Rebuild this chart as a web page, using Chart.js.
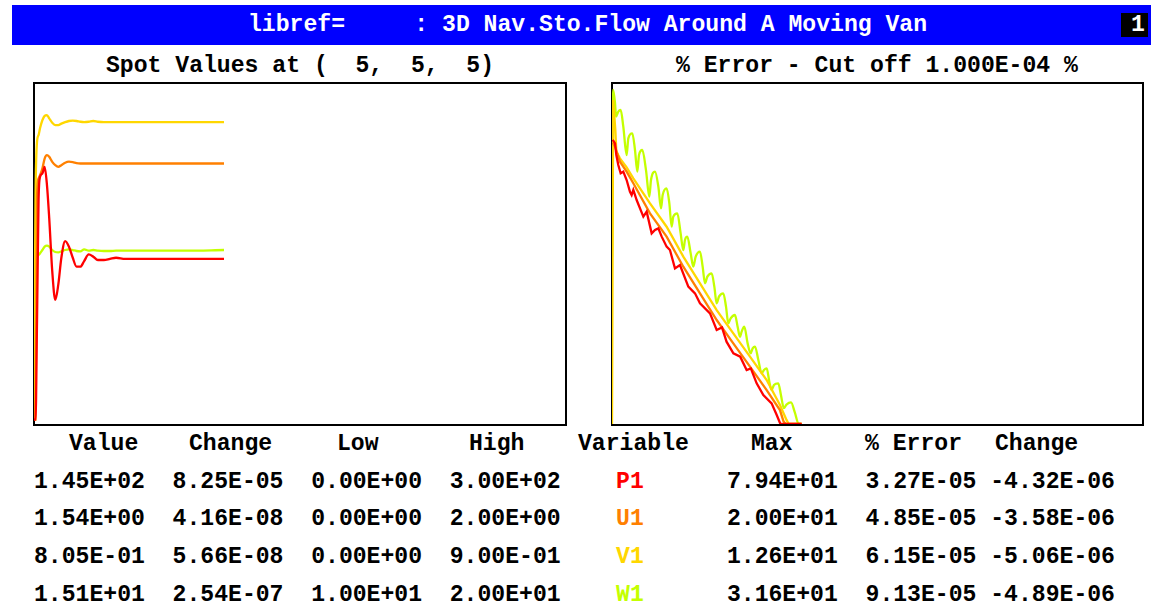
<!DOCTYPE html>
<html>
<head>
<meta charset="utf-8">
<script src="https://cdn.jsdelivr.net/npm/chart.js@4.4.1/dist/chart.umd.min.js"></script>
<style>
  body {
    margin: 0; width: 1151px; height: 604px; overflow: hidden; position: relative; background: #fff;
    font-family: "Liberation Mono", "Courier New", monospace; font-weight: bold; font-size: 23.1px; color: #000;
  }
  .txt { position: absolute; white-space: pre; line-height: 23px; }
  .box { position: absolute; box-sizing: border-box; border: 2px solid #000; }
  canvas { position: absolute; }
</style>
</head>
<body>
<div style="position:absolute;left:12px;top:5px;width:1139px;height:40px;background:#0000ff"></div>
<div class="txt" style="left:248px;top:14px;color:#fff">libref=     : 3D Nav.Sto.Flow Around A Moving Van</div>
<div style="position:absolute;left:1121px;top:13px;width:27px;height:24px;background:#000"></div>
<div class="txt" style="left:1131px;top:14px;color:#fff">1</div>

<div class="txt" style="left:106px;top:55px">Spot Values at (  5,  5,  5)</div>
<div class="txt" style="left:676px;top:55px">% Error - Cut off 1.000E-04 %</div>

<div class="box" style="left:33px;top:82px;width:534px;height:344px"></div>
<div class="box" style="left:611px;top:82px;width:533px;height:344px"></div>
<canvas id="spot-chart" width="532" height="341" style="left:34px;top:83px"></canvas>
<canvas id="error-chart" width="531" height="341" style="left:612px;top:83px"></canvas>

<div id="table"></div>

<script>
// monitored variables
const variables = ['P1', 'U1', 'V1', 'W1'];
const lineColours = ['#ff0000', '#ff8000', '#ffd700', '#c4ff00'];
const lowLimits = [0, 0, 0, 10];
const highLimits = [300, 2, 0.9, 20];
const totalSweeps = 700;
const cutOff = 1e-4;
const errorTop = 100;

// spot values at (5,5,5) against sweep
const spotSweeps = [0, 2, 4, 6, 8, 11, 14, 17, 20, 24, 28, 32, 36, 41, 46, 51, 56, 61, 66, 72, 78, 84, 92, 100, 108, 120, 160, 200, 250];
const spotP1 = [0, 0, 90, 198, 219, 222, 228, 212, 182, 134, 108, 122, 146, 161, 156, 146, 138, 138, 143, 149, 147, 144, 144, 145, 146, 145, 145, 145, 145];
const spotU1 = [0, 0, 1.34, 1.45, 1.47, 1.51, 1.57, 1.59, 1.58, 1.55, 1.53, 1.52, 1.53, 1.545, 1.551, 1.548, 1.542, 1.54, 1.54, 1.54, 1.54, 1.54, 1.54, 1.54, 1.54, 1.54, 1.54, 1.54, 1.54];
const spotV1 = [0, 0.60, 0.752, 0.77, 0.789, 0.81, 0.822, 0.824, 0.815, 0.803, 0.797, 0.797, 0.801, 0.805, 0.808, 0.809, 0.808, 0.806, 0.805, 0.806, 0.808, 0.806, 0.805, 0.805, 0.805, 0.805, 0.805, 0.805, 0.805];
const spotW1 = [14.0, 14.0, 14.9, 14.95, 15.0, 15.1, 15.2, 15.23, 15.2, 15.1, 15.04, 15.03, 15.06, 15.1, 15.12, 15.1, 15.07, 15.06, 15.12, 15.08, 15.1, 15.08, 15.07, 15.07, 15.08, 15.08, 15.08, 15.08, 15.1];

// % error against sweep
const errSweepsP1 = [1, 4, 5.7, 8.3, 11.4, 14.9, 19.3, 23.7, 25.9, 28.1, 32.5, 41.3, 45.7, 52.3, 56.7, 61.1, 65.5, 72, 76.4, 83, 89.6, 100.6, 109.4, 116, 129.2, 138, 145, 151, 160, 169, 177.5, 183, 190.7, 199.5, 210.4, 217, 222, 250];
const errP1 = [10.0, 8.67, 5.41, 3.61, 2.58, 2.75, 1.96, 1.22, 1.07, 1.31, 0.873, 0.445, 0.545, 0.226, 0.259, 0.277, 0.198, 0.132, 0.115, 0.0548, 0.0628, 0.0261, 0.0199, 0.0133, 8.85e-3, 4.51e-3, 5.0e-3, 2.81e-3, 1.75e-3, 1.53e-3, 8.91e-4, 9.5e-4, 5.2e-4, 3.24e-4, 2.31e-4, 1.45e-4, 9.6e-5, 3.27e-5];
const errSweepsU1 = [1, 4, 10.5, 19.3, 28.1, 50.1, 72, 94, 116, 138, 159.9, 181.9, 203.9, 221.4, 226, 229, 250];
const errU1 = [8.91, 7.59, 4.13, 2.75, 1.72, 0.509, 0.198, 0.0586, 0.0199, 6.76e-3, 2.62e-3, 1.02e-3, 3.96e-4, 1.76e-4, 1.12e-4, 9.5e-5, 4.85e-5];
const errSweepsV1 = [0, 1.5, 4.4, 5.7, 10.5, 19.3, 28.1, 50.1, 72, 94, 116, 138, 159.9, 181.9, 203.9, 221.4, 230.2, 233, 250];
const errV1 = [0, 50, 14.9, 6.19, 4.72, 3.28, 2.10, 0.764, 0.296, 0.0879, 0.0299, 0.0101, 3.94e-3, 1.53e-3, 5.94e-4, 2.16e-4, 1.17e-4, 9.7e-5, 6.15e-5];
const errSweepsW1 = [0, 1.5, 4, 5.3, 8.3, 11.4, 14.9, 19.3, 21.5, 26.8, 30.3, 33.4, 35.6, 40, 44.8, 49.2, 51.4, 56.7, 61.1, 64.6, 66.8, 72, 75.6, 78.6, 80.8, 86.1, 90.5, 94, 96.2, 99.3, 103.7, 107.2, 110.3, 116, 119.5, 122.6, 125.7, 131.4, 134.9, 138, 141, 146.7, 150.3, 153.3, 156.4, 162.1, 165.6, 168.7, 170.9, 174.4, 178.8, 182.8, 185.4, 188.5, 192.9, 197.3, 200.3, 203.9, 207.4, 210.4, 213.5, 219.2, 222.7, 226.5, 230, 236, 241, 246, 250];
const errW1 = [0.0879, 75.3, 43.9, 25.6, 31.3, 33.5, 17.1, 5.41, 10.6, 13.0, 6.62, 2.75, 5.41, 6.62, 2.94, 1.00, 1.96, 2.75, 1.50, 0.624, 1.07, 1.40, 0.764, 0.296, 0.445, 0.509, 0.226, 0.115, 0.173, 0.198, 0.101, 0.0586, 0.0879, 0.108, 0.0586, 0.0299, 0.0391, 0.0448, 0.0261, 0.0133, 0.0174, 0.0199, 0.0116, 5.90e-3, 7.23e-3, 8.28e-3, 5.16e-3, 3.44e-3, 4.22e-3, 5.16e-3, 2.62e-3, 1.75e-3, 2.14e-3, 2.30e-3, 1.34e-3, 7.78e-4, 8.91e-4, 9.55e-4, 5.56e-4, 3.96e-4, 4.85e-4, 5.20e-4, 3.24e-4, 1.9e-4, 2.2e-4, 2.4e-4, 1.6e-4, 1.0e-4, 9.13e-5];

// table at the bottom
const spotValue = [145, 1.54, 0.805, 15.1];
const spotChange = [8.25e-5, 4.16e-8, 5.66e-8, 2.54e-7];
const maxValue = [79.4, 20.0, 12.6, 31.6];
const errorPct = [3.27e-5, 4.85e-5, 6.15e-5, 9.13e-5];
const errorChange = [-4.32e-6, -3.58e-6, -5.06e-6, -4.89e-6];

function fmtE(v) {
  const [m, e] = v.toExponential(2).split('e');
  return m + 'E' + e[0] + e.slice(1).padStart(2, '0');
}

function baseOptions(yScale) {
  return {
    responsive: false,
    animation: false,
    events: [],
    layout: { padding: 0 },
    plugins: { legend: { display: false }, tooltip: { enabled: false } },
    scales: {
      x: { type: 'linear', min: 0, max: totalSweeps, display: false },
      y: yScale
    }
  };
}

function lineSet(i, points, smooth) {
  return {
    label: variables[i],
    data: points,
    borderColor: lineColours[i],
    borderWidth: 2.3,
    pointRadius: 0,
    cubicInterpolationMode: smooth ? 'monotone' : 'default',
    tension: 0,
    clip: false
  };
}

function initSpotChart() {
  const series = [spotP1, spotU1, spotV1, spotW1];
  new Chart(document.getElementById('spot-chart'), {
    type: 'line',
    data: {
      datasets: series.map((vals, i) => lineSet(i, vals.map((v, j) => ({
        x: spotSweeps[j],
        y: (v - lowLimits[i]) / (highLimits[i] - lowLimits[i])
      })), true))
    },
    options: baseOptions({ min: -0.013, max: 1.012, display: false })
  });
}

function initErrorChart() {
  const sweeps = [errSweepsP1, errSweepsU1, errSweepsV1, errSweepsW1];
  const series = [errP1, errU1, errV1, errW1];
  new Chart(document.getElementById('error-chart'), {
    type: 'line',
    data: {
      // errors below the cut-off sit on the bottom of the frame
      datasets: series.map((vals, i) => lineSet(i, vals.map((v, j) => ({
        x: sweeps[i][j],
        y: Math.max(v, cutOff)
      })), i === 3))
    },
    options: baseOptions({ type: 'logarithmic', min: cutOff, max: errorTop, display: false })
  });
}

function initTable() {
  const table = document.getElementById('table');
  const heads = [['Value', 69], ['Change', 189], ['Low', 337], ['High', 469],
                 ['Variable', 578], ['Max', 751], ['% Error', 865], ['Change', 995]];
  heads.forEach(([t, x]) => {
    const d = document.createElement('div');
    d.className = 'txt';
    d.style.left = x + 'px';
    d.style.top = '433px';
    d.textContent = t;
    table.appendChild(d);
  });
  variables.forEach((name, i) => {
    const d = document.createElement('div');
    d.className = 'txt';
    d.style.left = '34px';
    d.style.top = (470.5 + i * 37.7) + 'px';
    d.innerHTML = fmtE(spotValue[i]) + '  ' + fmtE(spotChange[i]) + '  ' + fmtE(lowLimits[i]) + '  ' +
      fmtE(highLimits[i]) + '    <span style="color:' + lineColours[i] + '">' + name + '</span>      ' +
      fmtE(maxValue[i]) + '  ' + fmtE(errorPct[i]) + ' ' + fmtE(errorChange[i]);
    table.appendChild(d);
  });
}

initSpotChart();
initErrorChart();
initTable();
</script>
</body>
</html>
